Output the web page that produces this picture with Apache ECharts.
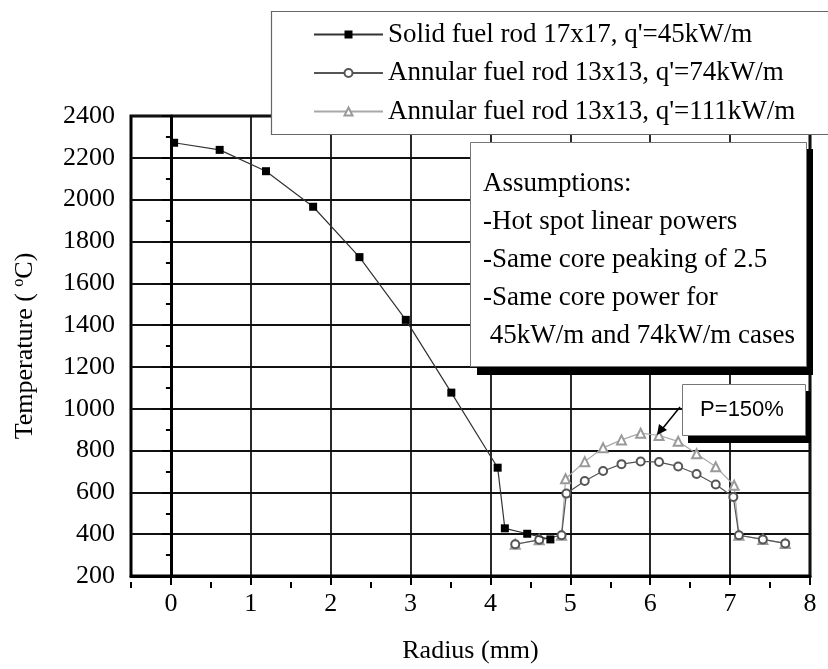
<!DOCTYPE html>
<html>
<head>
<meta charset="utf-8">
<script src="https://cdn.jsdelivr.net/npm/echarts@6/dist/echarts.min.js"></script>
<style>
html,body{margin:0;padding:0;background:#fff;}
#chart{width:828px;height:669px;}
</style>
</head>
<body>
<div id="chart"></div>
<script>
// ---- data ----
const seriesNames = [
  "Solid fuel rod 17x17, q'=45kW/m",
  "Annular fuel rod 13x13, q'=74kW/m",
  "Annular fuel rod 13x13, q'=111kW/m"
];
const solidR = [0.04, 0.61, 1.19, 1.78, 2.36, 2.94, 3.51, 4.09, 4.18, 4.46, 4.75];
const solidT = [2272, 2238, 2136, 1966, 1725, 1425, 1077, 718, 428, 402, 375];
const ann74R = [4.31, 4.61, 4.89, 4.95, 5.18, 5.41, 5.64, 5.88, 6.11, 6.35, 6.58, 6.82, 7.04, 7.11, 7.41, 7.69];
const ann74T = [352, 373, 395, 594, 654, 702, 735, 748, 745, 724, 688, 638, 578, 395, 375, 356];
const ann111R = [4.31, 4.61, 4.89, 4.94, 5.18, 5.41, 5.64, 5.88, 6.11, 6.35, 6.58, 6.82, 7.05, 7.11, 7.41, 7.69];
const ann111T = [352, 373, 395, 665, 747, 813, 851, 883, 872, 844, 785, 722, 634, 395, 375, 356];
const xMajorTicks = [0, 1, 2, 3, 4, 5, 6, 7, 8];
const xMinorTicks = [-0.5, 0.5, 1.5, 2.5, 3.5, 4.5, 5.5, 6.5, 7.5];
const yMin = 200, yMax = 2400, yStep = 200;
const xMin = -0.5, xMax = 8;
const xTitle = 'Radius (mm)';
const assumptionsText = ['Assumptions:', '-Hot spot linear powers', '-Same core peaking of 2.5', '-Same core power for', ' 45kW/m and 74kW/m cases'];
const calloutText = 'P=150%';

const zip = (a, b) => a.map((v, i) => [v, b[i]]);
const SERIF = '"Liberation Serif", "Times New Roman", serif';
const GRID_H = 466;

const chart = echarts.init(document.getElementById('chart'), null, {renderer: 'canvas'});
const axisLabelStyle = {color: '#000', fontFamily: SERIF, fontSize: 26};

const option = {
  backgroundColor: '#fff',
  animation: false,
  grid: {left: 131, top: 116, width: 679, height: GRID_H, show: true, borderColor: '#000', borderWidth: 3, backgroundColor: 'transparent'},
  legend: {
    orient: 'vertical', left: 313, top: 21, padding: 0, itemGap: 11.5,
    itemWidth: 69, itemHeight: 10, z: 20,
    textStyle: {color: '#000', fontFamily: SERIF, fontSize: 27, lineHeight: 27},
    data: seriesNames
  },
  xAxis: [{
    type: 'value', min: xMin, max: xMax, position: 'bottom',
    name: xTitle, nameLocation: 'middle', nameGap: 62,
    nameTextStyle: {color: '#000', fontFamily: SERIF, fontSize: 26},
    axisLine: {show: true, onZero: false, lineStyle: {color: '#000', width: 3}},
    axisTick: {show: true, inside: false, length: 9, customValues: xMajorTicks, lineStyle: {color: '#000', width: 2}},
    axisLabel: {show: true, margin: 15, customValues: xMajorTicks, ...axisLabelStyle},
    splitLine: {show: true, lineStyle: {color: '#111', width: 1.8}}
  }, {
    // minor half-mm ticks: a top axis moved down onto the bottom edge, ticks pointing down
    type: 'value', min: xMin, max: xMax, position: 'top', offset: -GRID_H,
    axisLine: {show: true, onZero: false, lineStyle: {color: 'rgba(0,0,0,0)', width: 1}},
    axisTick: {show: true, inside: true, length: 6, customValues: xMinorTicks, lineStyle: {color: '#000', width: 2}},
    axisLabel: {show: false},
    splitLine: {show: false}
  }],
  yAxis: {
    type: 'value', min: yMin, max: yMax, interval: yStep,
    name: '{a|Temperature ( }{s|o}{a|C)}', nameLocation: 'middle', nameGap: 92,
    nameTextStyle: {color: '#000', fontFamily: SERIF, fontSize: 26,
      rich: {a: {fontFamily: SERIF, fontSize: 26, color: '#000'}, s: {fontFamily: SERIF, fontSize: 16, color: '#000', padding: [0, 0, 12, 0]}}},
    axisLine: {show: true, lineStyle: {color: '#000', width: 3}},
    axisTick: {show: true, length: 9, lineStyle: {color: '#000', width: 2}},
    minorTick: {show: true, splitNumber: 2, length: 5, lineStyle: {color: '#000', width: 2}},
    axisLabel: {margin: 16, formatter: v => String(v), ...axisLabelStyle},
    splitLine: {show: true, lineStyle: {color: '#111', width: 1.8}}
  },
  series: [{
    name: seriesNames[0], type: 'line', data: zip(solidR, solidT), z: 5,
    symbol: 'rect', symbolSize: 8,
    itemStyle: {color: '#000'},
    lineStyle: {color: '#333', width: 1.2}
  }, {
    name: seriesNames[1], type: 'line', data: zip(ann74R, ann74T), z: 4,
    symbol: 'emptyCircle', symbolSize: 8,
    itemStyle: {color: '#555', borderWidth: 1},
    lineStyle: {color: '#555', width: 1.2}
  }, {
    name: seriesNames[2], type: 'line', data: zip(ann111R, ann111T), z: 3,
    symbol: 'emptyTriangle', symbolSize: 9,
    itemStyle: {color: '#9a9a9a', borderWidth: 1},
    lineStyle: {color: '#a8a8a8', width: 1.2}
  }],
  graphic: [
    // legend frame
    {type: 'rect', z: 10, shape: {x: 271.5, y: 11.5, width: 600, height: 123}, style: {fill: '#fff', stroke: '#666', lineWidth: 1.2}},
    // assumptions box
    {type: 'rect', z: 10, shape: {x: 477, y: 149, width: 336, height: 226}, style: {fill: '#000'}},
    {type: 'rect', z: 11, shape: {x: 470.5, y: 142.5, width: 336, height: 224}, style: {fill: '#fff', stroke: '#777', lineWidth: 1}},
    {type: 'text', z: 12, x: 483, y: 165, style: {text: assumptionsText.join('\n'), font: '27px ' + SERIF, lineHeight: 38, fill: '#000', verticalAlign: 'top'}},
    // callout
    {type: 'rect', z: 10, shape: {x: 688, y: 391, width: 123, height: 52}, style: {fill: '#000'}},
    {type: 'rect', z: 11, shape: {x: 682.5, y: 384.5, width: 123, height: 51}, style: {fill: '#fff', stroke: '#777', lineWidth: 1}},
    {type: 'text', z: 12, x: 742, y: 410, style: {text: calloutText, font: '22px "Liberation Sans", Arial, sans-serif', fill: '#000', align: 'center', verticalAlign: 'middle'}},
    {type: 'line', z: 12, shape: {x1: 680, y1: 407, x2: 663, y2: 428}, style: {stroke: '#000', lineWidth: 1.5}},
    {type: 'polygon', z: 12, shape: {points: [[657, 435], [659, 424], [667, 430]]}, style: {fill: '#000'}}
  ]
};
chart.setOption(option);
</script>
</body>
</html>
